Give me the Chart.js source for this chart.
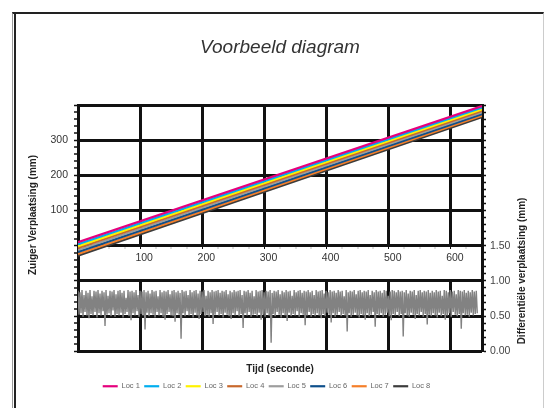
<!DOCTYPE html>
<html>
<head>
<meta charset="utf-8">
<script src="https://cdn.jsdelivr.net/npm/chart.js@4.4.1/dist/chart.umd.min.js"></script>
<style>
  body { margin: 0; background: #fff; }
  #wrap { position: relative; width: 548px; height: 408px; overflow: hidden; }
  #frame { position: absolute; left: 12px; top: 12px; width: 530px; height: 400px;
           border-top: 2px solid #222; border-left: 1px solid #999; border-right: 1px solid #ccc; }
  #frame2 { position: absolute; left: 14px; top: 12px; width: 2px; height: 400px; background: #222; }
  canvas { position: absolute; left: 0; top: 0; }
</style>
</head>
<body>
<div id="wrap">
  <div id="frame"></div>
  <div id="frame2"></div>
  <canvas id="myChart" width="548" height="408"></canvas>
</div>
<script>
// data
const locLabels = ["Loc 1", "Loc 2", "Loc 3", "Loc 4", "Loc 5", "Loc 6", "Loc 7", "Loc 8"];
const locColors = ["#e5007d", "#00aeef", "#fff200", "#c8682c", "#9d9d9d", "#0d4f8b", "#f57f29", "#3c3c3c"];
const locTimes = [0, 650];
const locStart = [10, 4.5, -1, -6.5, -12, -17.5, -23, -28.5];
const locEnd = [397, 392.5, 388, 383.5, 379, 374.5, 370, 365.5];

// differentiele verplaatsing, one sample every diffStep seconds
const diffStep = 1.61;
const diffValues = [
  0.86, 0.52, 0.84, 0.54, 0.87, 0.49, 0.80, 0.56, 0.86, 0.51, 0.83, 0.47, 0.87, 0.53, 0.78, 0.51, 0.86, 0.56, 0.85, 0.48,
  0.87, 0.54, 0.82, 0.51, 0.86, 0.57, 0.84, 0.36, 0.87, 0.52, 0.79, 0.54, 0.86, 0.50, 0.85, 0.58, 0.87, 0.49, 0.81, 0.53,
  0.86, 0.51, 0.87, 0.55, 0.83, 0.48, 0.86, 0.53, 0.76, 0.56, 0.87, 0.50, 0.85, 0.44, 0.86, 0.54, 0.84, 0.51, 0.87, 0.57,
  0.80, 0.49, 0.86, 0.53, 0.85, 0.51, 0.87, 0.31, 0.84, 0.55, 0.86, 0.50, 0.82, 0.54, 0.87, 0.52, 0.85, 0.48, 0.86, 0.56,
  0.78, 0.51, 0.87, 0.54, 0.84, 0.49, 0.86, 0.45, 0.85, 0.53, 0.87, 0.56, 0.81, 0.51, 0.86, 0.50, 0.87, 0.42, 0.84, 0.54,
  0.86, 0.52, 0.83, 0.18, 0.87, 0.54, 0.85, 0.50, 0.86, 0.57, 0.80, 0.51, 0.87, 0.53, 0.84, 0.48, 0.86, 0.55, 0.87, 0.51,
  0.82, 0.46, 0.86, 0.53, 0.85, 0.56, 0.87, 0.50, 0.79, 0.52, 0.86, 0.49, 0.84, 0.54, 0.87, 0.39, 0.85, 0.52, 0.86, 0.56,
  0.87, 0.51, 0.83, 0.53, 0.86, 0.48, 0.85, 0.55, 0.87, 0.52, 0.81, 0.50, 0.86, 0.46, 0.84, 0.54, 0.87, 0.51, 0.85, 0.57,
  0.86, 0.50, 0.87, 0.53, 0.80, 0.33, 0.86, 0.54, 0.85, 0.51, 0.87, 0.56, 0.83, 0.49, 0.86, 0.52, 0.78, 0.53, 0.87, 0.50,
  0.85, 0.55, 0.86, 0.45, 0.87, 0.52, 0.84, 0.49, 0.86, 0.54, 0.85, 0.51, 0.87, 0.12, 0.83, 0.53, 0.86, 0.50, 0.85, 0.56,
  0.87, 0.52, 0.81, 0.48, 0.86, 0.54, 0.84, 0.51, 0.87, 0.43, 0.85, 0.55, 0.86, 0.50, 0.79, 0.53, 0.87, 0.51, 0.84, 0.57,
  0.86, 0.49, 0.87, 0.54, 0.83, 0.52, 0.86, 0.37, 0.85, 0.51, 0.87, 0.56, 0.84, 0.49, 0.86, 0.53, 0.80, 0.50, 0.87, 0.54,
  0.85, 0.51, 0.86, 0.47, 0.87, 0.53, 0.82, 0.50, 0.86, 0.55, 0.84, 0.52, 0.87, 0.41, 0.85, 0.54, 0.86, 0.49, 0.83, 0.52,
  0.87, 0.56, 0.85, 0.50, 0.86, 0.53, 0.78, 0.51, 0.87, 0.28, 0.84, 0.54, 0.86, 0.49, 0.85, 0.52, 0.87, 0.55, 0.81, 0.51,
  0.86, 0.48, 0.87, 0.53, 0.84, 0.51, 0.86, 0.45, 0.85, 0.54, 0.87, 0.50, 0.80, 0.52, 0.86, 0.56, 0.84, 0.35, 0.87, 0.53,
  0.85, 0.51, 0.86, 0.54, 0.83, 0.49, 0.87, 0.52, 0.86, 0.55, 0.79, 0.50, 0.85, 0.44, 0.87, 0.53, 0.86, 0.51, 0.84, 0.56,
  0.87, 0.50, 0.85, 0.53, 0.86, 0.21, 0.84, 0.54, 0.87, 0.51, 0.82, 0.49, 0.86, 0.55, 0.85, 0.52, 0.87, 0.46, 0.80, 0.53,
  0.86, 0.51, 0.87, 0.56, 0.84, 0.49, 0.86, 0.53, 0.85, 0.38, 0.87, 0.52, 0.83, 0.50, 0.86, 0.54, 0.84, 0.51, 0.87, 0.48,
  0.85, 0.55, 0.86, 0.50, 0.79, 0.53, 0.87, 0.45, 0.86, 0.51, 0.84, 0.54, 0.87, 0.49, 0.85, 0.56, 0.86, 0.52, 0.81, 0.50,
  0.87, 0.53, 0.86, 0.32, 0.85, 0.54, 0.87, 0.51, 0.83, 0.52, 0.86, 0.49, 0.84, 0.55, 0.87, 0.51, 0.85, 0.53, 0.86, 0.54
];

const xTicks = [100, 200, 300, 400, 500, 600];
const leftTicks = [100, 200, 300];
const rightTicks = [0, 0.5, 1.0, 1.5];

const chartTitle = "Voorbeeld diagram";
const leftTitle = "Zuiger Verplaatsing (mm)";
const rightTitle = "Differentiële verplaatsing (mm)";
const bottomTitle = "Tijd (seconde)";

const tickFont = { family: '"Liberation Sans", Arial, sans-serif', size: 10.5 };
const isMajor = (v, step) => Math.abs(v / step - Math.round(v / step)) < 1e-6;

// datasets
const datasets = locLabels.map((label, i) => ({
  label: label,
  data: locTimes.map((t, k) => ({ x: t, y: k === 0 ? locStart[i] : locEnd[i] })),
  borderColor: locColors[i],
  backgroundColor: locColors[i],
  borderWidth: 2.2,
  pointRadius: 0,
  yAxisID: "y",
}));

datasets.push({
  label: "diff",
  data: diffValues.map((v, i) => ({ x: i * diffStep, y: v })),
  borderColor: "#828282",
  borderWidth: 1.4,
  pointRadius: 0,
  yAxisID: "y2",
});

// zijtitels (rechts leest van onder naar boven)
const sideTitles = {
  id: "sideTitles",
  afterDraw(chart) {
    const ctx = chart.ctx;
    ctx.save();
    ctx.font = 'bold 10px "Liberation Sans", Arial, sans-serif';
    ctx.fillStyle = "#222";
    ctx.textAlign = "center";
    ctx.textBaseline = "middle";
    ctx.translate(33, 215);
    ctx.rotate(-Math.PI / 2);
    ctx.fillText(leftTitle, 0, 0);
    ctx.restore();

    ctx.save();
    ctx.font = 'bold 10px "Liberation Sans", Arial, sans-serif';
    ctx.fillStyle = "#222";
    ctx.textAlign = "center";
    ctx.textBaseline = "middle";
    ctx.translate(522, 271);
    ctx.rotate(-Math.PI / 2);
    ctx.fillText(rightTitle, 0, 0);
    ctx.restore();
  },
};

new Chart(document.getElementById("myChart"), {
  type: "line",
  data: { datasets: datasets },
  plugins: [sideTitles],
  options: {
    responsive: false,
    animation: false,
    layout: { padding: { left: 0, right: 15, top: 0, bottom: 8 } },
    plugins: {
      title: {
        display: true,
        text: chartTitle,
        fullSize: false,
        color: "#333",
        font: { family: '"Liberation Sans", Arial, sans-serif', size: 19, style: "italic", weight: "normal" },
        padding: { top: 36.6, bottom: 45.6 },
      },
      legend: {
        position: "bottom",
        labels: {
          usePointStyle: true,
          pointStyle: "line",
          pointStyleWidth: 15,
          boxHeight: 7,
          padding: 4.4,
          color: "#666",
          font: { family: '"Liberation Sans", Arial, sans-serif', size: 7.5 },
          filter: (item) => item.datasetIndex < locLabels.length,
        },
      },
      tooltip: { enabled: false },
    },
    scales: {
      x: {
        type: "linear",
        axis: "x",
        position: { y: 0 },
        min: 0,
        max: 650,
        ticks: {
          stepSize: 25,
          autoSkip: false,
          maxRotation: 0,
          padding: 3,
          labelOffset: 4,
          color: "#333",
          font: tickFont,
          callback: (v) => (xTicks.includes(v) ? String(v) : ""),
        },
        grid: {
          color: "#111",
          lineWidth: (c) => (c.tick && isMajor(c.tick.value, 100) && c.tick.value > 0 && c.tick.value < 650 ? 3 : 0),
          tickLength: 3,
          tickWidth: 1,
          tickColor: (c) => (c.tick && isMajor(c.tick.value, 100) ? "#111" : "#bbb"),
        },
        // vertical grid lines are broken where the tick labels sit
        border: { display: false, dash: [141, 34, 300] },
      },
      xb: {
        type: "linear",
        axis: "x",
        position: "bottom",
        min: 0,
        max: 650,
        ticks: { display: false },
        grid: { display: false, drawTicks: false },
        border: { display: false },
        title: {
          display: true,
          text: bottomTitle,
          color: "#222",
          font: { family: '"Liberation Sans", Arial, sans-serif', size: 10, weight: "bold" },
          padding: { top: 0, bottom: 2.8 },
        },
        afterFit: (s) => { s.height = 26.8; },
      },
      y: {
        type: "linear",
        position: "left",
        min: -300,
        max: 400,
        ticks: {
          stepSize: 20,
          maxTicksLimit: 100,
          autoSkip: false,
          padding: 6,
          color: "#333",
          font: tickFont,
          callback: (v) => (leftTicks.includes(v) ? String(v) : ""),
        },
        grid: {
          color: "#111",
          lineWidth: (c) => (c.tick && isMajor(c.tick.value, 100) ? 3 : 0),
          tickLength: 4,
          tickWidth: 1.5,
          tickColor: "#111",
        },
        border: { display: true, color: "#111", width: 3 },
        afterFit: (s) => { s.width = 78; },
      },
      y2: {
        type: "linear",
        position: "right",
        min: 0,
        max: 3.5,
        ticks: {
          stepSize: 0.1,
          maxTicksLimit: 100,
          autoSkip: false,
          padding: 4,
          color: "#444",
          font: tickFont,
          callback: (v) => (rightTicks.some((t) => Math.abs(t - v) < 1e-6) ? v.toFixed(2) : ""),
        },
        grid: {
          drawOnChartArea: false,
          tickLength: 4,
          tickWidth: 1.5,
          tickColor: "#111",
        },
        border: { display: true, color: "#111", width: 3 },
        afterFit: (s) => { s.width = 51; },
      },
    },
  },
});
</script>
</body>
</html>
